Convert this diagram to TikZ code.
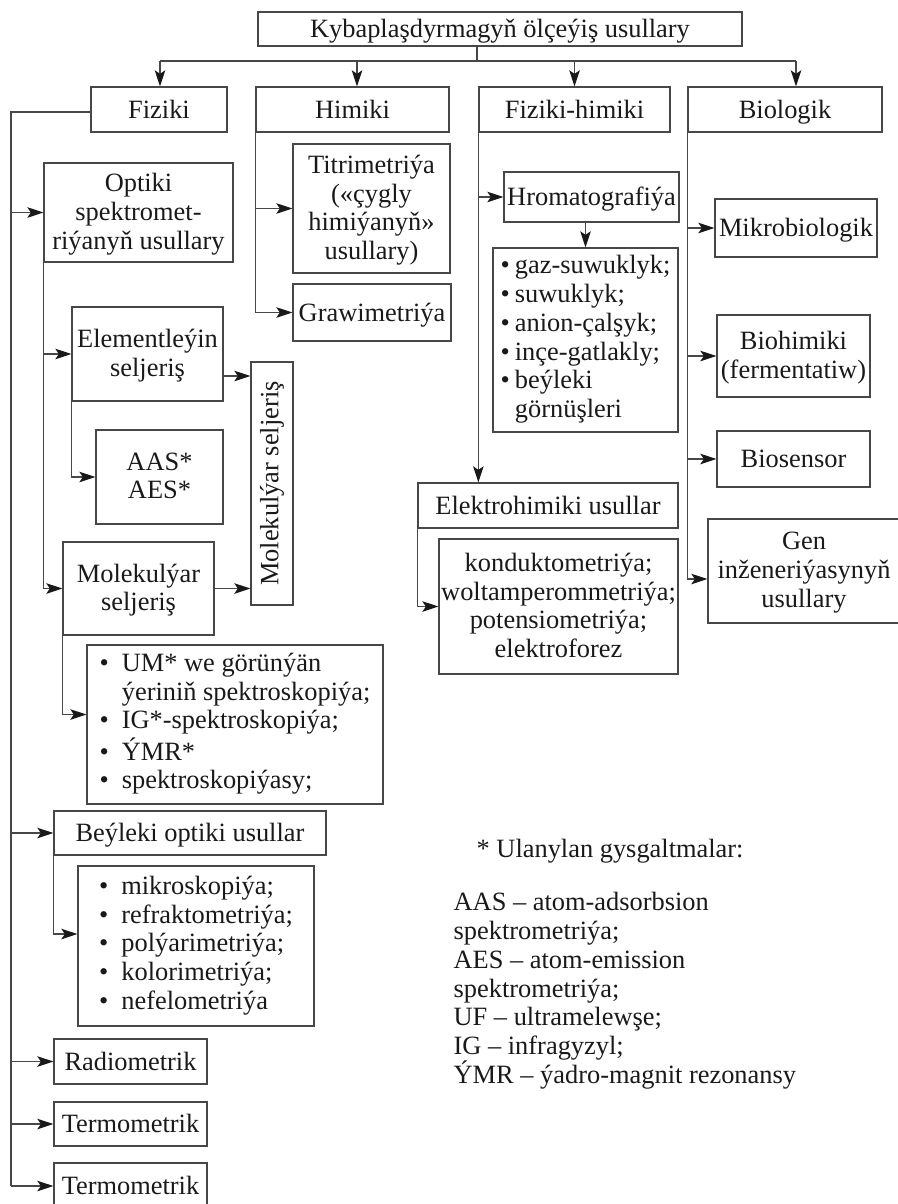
\documentclass[tikz,border=0pt]{standalone}
\usepackage{fontspec}
\setmainfont{Liberation Serif}
\usepackage{graphicx}
\usetikzlibrary{arrows.meta}

\begin{document}
\begin{tikzpicture}[x=1pt,y=-1pt,line width=1.3pt,color=black!72,
	every node/.style={text=black!90,font=\fontsize{26.4}{28.7}\selectfont},
	frame/.style={draw,inner sep=0pt},
	box/.style={frame,align=center,text depth=2.5pt,execute at begin node={\rule{0pt}{20pt}}},
	arr/.style={-{Stealth[length=16pt,width=10.5pt,inset=3.5pt,color=black!90]}}]
	\useasboundingbox (0,0) rectangle (897,1204);
	% top level
	\node[box,minimum width=484,minimum height=34] (top) at (500,29) {Kybaplaşdyrmagyň ölçeýiş usullary};
	\node[box,minimum width=136,minimum height=45] (fiz) at (159,109.5) {Fiziki};
	\node[box,minimum width=193,minimum height=45] (him) at (352.5,109.5) {Himiki};
	\node[box,minimum width=191,minimum height=45] (fizhim) at (574.5,109.5) {Fiziki-himiki};
	\node[box,minimum width=194,minimum height=45] (bio) at (785,109.5) {Biologik};
	\coordinate (bus) at (477,61);
	\draw (top.south -| bus) -- (bus);
	\draw ([xshift=1]fiz.north |- bus) -- ([xshift=11]bio.north |- bus);
	\draw[arr] ([xshift=1]fiz.north |- bus) -- ([xshift=1]fiz.north);
	\draw[arr] ([xshift=4.5]him.north |- bus) -- ([xshift=4.5]him.north);
	\draw[arr] (fizhim.north |- bus) -- (fizhim.north);
	\draw[arr] ([xshift=11]bio.north |- bus) -- ([xshift=11]bio.north);
	% Fiziki
	\node[box,minimum width=189,minimum height=99] (opt) at (138.5,212.5) {Optiki\\spektromet-\\riýanyň usullary};
	\node[box,minimum width=151,minimum height=94] (elem) at (147.5,354) {Elementleýin\\seljeriş};
	\node[box,minimum width=127,minimum height=94] (aas) at (159.5,477) {AAS*\\AES*};
	\node[frame,minimum width=42,minimum height=243] (molv) at (272,483.5) {\rotatebox{90}{Molekulýar seljeriş}};
	\node[box,minimum width=151,minimum height=93] (mol) at (138.5,588.5) {Molekulýar\\seljeriş};
	\node[frame,minimum width=296,minimum height=159] (umlist) at (235,724.5) {\begin{tabular}{@{}l@{\hspace{13pt}}l@{}}
		\textbullet & UM* we görünýän\\
		& ýeriniň spektroskopiýa;\\
		\textbullet & IG*-spektroskopiýa;\\
		\textbullet & ÝMR*\\
		\textbullet & spektroskopiýasy;
	\end{tabular}};
	\node[box,minimum width=272,minimum height=44] (beyl) at (190,833) {Beýleki optiki usullar};
	\node[frame,minimum width=236,minimum height=160] (mikro) at (196,946) {\begin{tabular}{@{}l@{\hspace{13pt}}l@{}}
		\textbullet & mikroskopiýa;\\
		\textbullet & refraktometriýa;\\
		\textbullet & polýarimetriýa;\\
		\textbullet & kolorimetriýa;\\
		\textbullet & nefelometriýa
	\end{tabular}};
	\node[box,minimum width=153,minimum height=45] (radio) at (130.5,1061.5) {Radiometrik};
	\node[box,minimum width=153,minimum height=44] (term) at (130.5,1124) {Termometrik};
	\node[box,minimum width=153,minimum height=46] (termb) at (130.5,1186) {Termometrik};
	\coordinate (fl) at (11,112);
	\draw (fiz.west |- fl) -- (fl) -- (fl |- termb.west);
	\draw[arr] (fl |- opt.west) -- (opt.west);
	\draw[arr] (fl |- beyl.west) -- (beyl.west);
	\draw[arr] (fl |- radio.west) -- (radio.west);
	\draw[arr] (fl |- term.west) -- (term.west);
	\draw[arr] (fl |- termb.west) -- (termb.west);
	\draw[arr] (opt.south west) |- (elem.west);
	\draw[arr] (opt.south west) |- (mol.west);
	\draw[arr] (elem.south west) |- (aas.west);
	\draw[arr] ([yshift=-22]elem.east) -- ([yshift=-22]elem.east -| molv.west);
	\draw[arr] (mol.east) -- (mol.east -| molv.west);
	\draw[arr] (mol.south west) |- ([yshift=10]umlist.west);
	\draw[arr] (beyl.south west) |- ([yshift=12]mikro.west);
	% Himiki
	\node[box,minimum width=157,minimum height=129] (titr) at (371.5,208.5) {Titrimetriýa\\(«çygly\\himiýanyň»\\usullary)};
	\node[box,minimum width=158,minimum height=57] (graw) at (372,312.5) {Grawimetriýa};
	\draw[arr] (him.south west) |- (titr.west);
	\draw[arr] (him.south west) |- (graw.west);
	% Fiziki-himiki
	\node[box,minimum width=175,minimum height=50] (hrom) at (591.5,197) {Hromatografiýa};
	\node[frame,minimum width=185,minimum height=184] (hlist) at (585.5,340) {\begin{tabular}{@{}l@{\hspace{5pt}}l@{}}
		\textbullet & gaz-suwuklyk;\\
		\textbullet & suwuklyk;\\
		\textbullet & anion-çalşyk;\\
		\textbullet & inçe-gatlakly;\\
		\textbullet & beýleki\\
		& görnüşleri
	\end{tabular}};
	\node[box,minimum width=260,minimum height=45] (elektro) at (548,505.5) {Elektrohimiki usullar};
	\node[box,minimum width=239,minimum height=135] (kond) at (558.5,606.5) {konduktometriýa;\\woltamperommetriýa;\\potensiometriýa;\\elektroforez};
	\draw[arr] (fizhim.south west) |- (hrom.west);
	\draw[arr] (fizhim.south west) -- (fizhim.south west |- elektro.north);
	\draw[arr] (hrom.south -| hlist.north) -- (hlist.north);
	\draw[arr] (elektro.south west) |- (kond.west);
	% Biologik
	\node[box,minimum width=162,minimum height=58] (mikrob) at (796,228) {Mikrobiologik};
	\node[box,minimum width=153,minimum height=82] (biohim) at (793.5,356) {Biohimiki\\(fermentatiw)};
	\node[box,minimum width=153,minimum height=56] (biosens) at (793.5,459) {Biosensor};
	\node[box,minimum width=192,minimum height=104] (gen) at (804,571) {Gen\\inženeriýasynyň\\usullary};
	\draw[arr] (bio.south west) |- (mikrob.west);
	\draw[arr] (bio.south west) |- (biohim.west);
	\draw[arr] (bio.south west) |- (biosens.west);
	\draw[arr] (bio.south west) |- ([yshift=-8]gen.west);
	% legend
	\node[anchor=base west,inner sep=0pt] (note) at (476,857) {* Ulanylan gysgaltmalar:};
	\node[anchor=north west,inner sep=0pt,align=left] (abbr) at (453,892) {AAS – atom-adsorbsion\\spektrometriýa;\\AES – atom-emission\\spektrometriýa;\\UF – ultramelewşe;\\IG – infragyzyl;\\ÝMR – ýadro-magnit rezonansy};
\end{tikzpicture}
\end{document}
